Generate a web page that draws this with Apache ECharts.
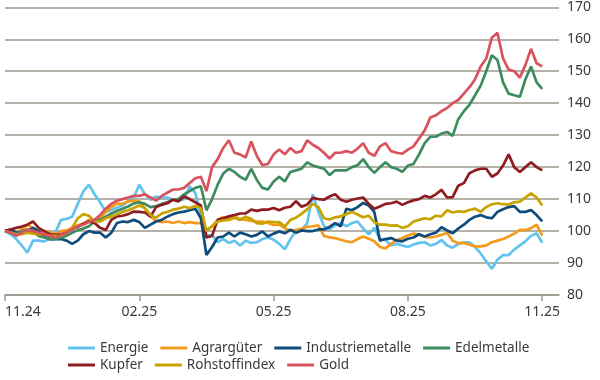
<!DOCTYPE html>
<html>
<head>
<meta charset="utf-8">
<script src="https://cdn.jsdelivr.net/npm/echarts@6/dist/echarts.min.js"></script>
<style>
html,body{margin:0;padding:0;background:#fff;}
#c{width:600px;height:380px;}
</style>
</head>
<body>
<div id="c"></div>
<script>
// Category axis: roughly twice-weekly sampling from Nov 2024 to Nov 2025
const months = ['2024-11','2024-12','2025-01','2025-02','2025-03','2025-04','2025-05','2025-06','2025-07','2025-08','2025-09','2025-10','2025-11'];
const days = ['01','05','09','13','16','20','24','28'];
const categories = months.flatMap(m => days.map(d => m + '-' + d)).slice(0, 100);

const xTickCats = ['2024-11-01','2025-02-01','2025-05-01','2025-08-01','2025-11-01'];
const xTickLabels = ['11.24','02.25','05.25','08.25','11.25'];

const seriesNames = ['Energie','Agrargüter','Industriemetalle','Edelmetalle','Kupfer','Rohstoffindex','Gold'];

const energie = [100,99,97.5,95.5,93.2,97,97,96.8,97.5,99.5, 103.5,103.8,104.5,108.5,112.4,114.5,111.5,109,106,106.6, 107.3,108,109.3,110.5,114.5,111.5,109.8,110.8,110.5,110.5, 109.8,109.5,110,114,112,104.5,98.5,98.8,96.5,97.5, 96.3,97,95.5,97,96.3,96.5,97.5,98,97.3,96, 94.3,97.5,100,100.2,102.5,111.5,106,101.5,100.6,101.8, 102.5,101.5,102.5,103,100.8,99,101,97.5,97.2,95.5, 96,95.5,95,95.8,96.3,96.5,95.5,96,97.2,95.5, 94.8,96,96.5,96.5,95,93,90.5,88.2,91,92.5, 92.5,94.2,95.5,96.8,98.5,99.3,96.3];

const agrar = [100,100,99.5,100.5,102,101,100,100,99.5,99, 100,100.2,101,101.8,102.3,103.5,103.2,104,106,107.5, 108.6,108.5,109.3,109.5,109.3,107,104.5,103.3,102.8,103, 102.5,103,102.5,102.8,102.5,102.5,100.4,101.5,103.5,104.4, 104,104.5,103.8,103.5,103.2,103,103,102.5,101.9,102, 100.9,100,100.4,100.8,101.3,101.5,101.8,98.5,98,97.8, 97.3,96.8,96.5,97.5,98.3,97.6,96.8,95,94.6,96, 97.2,97.8,98.6,99.2,98.8,98.2,98,98.3,98.8,99.5, 97,96.2,96.3,95.7,95.2,95.2,95.5,96.5,97,97.5, 98.3,99.2,100.4,100.3,100.9,102,98.6];

const industrie = [100,100.5,99.5,99.5,100,101,100,98.5,97.5,97.5, 97.5,97,96,97,99,100,99.5,99.5,98,99.5, 102.5,103,102.8,103.5,102.8,101,102,103,103.5,104.5, 105.3,105.8,106.1,106.5,107,104,92.5,95,98,98.3, 99.5,98.3,99.5,99,98.3,98.8,99.9,98.3,99.2,99.9, 99.3,100.4,99.5,100.2,100,100,100.5,100.5,101.3,102.5, 101.5,107,106.5,107.5,108.8,108,106,97,97.5,97.8, 97,96.8,97.6,98,99,98.3,99,99.5,101.2,100.2, 99.3,100.8,102,103.5,104.5,105,104.3,104,106,106.8, 107.5,107.8,106,106,106.6,105,103];

const edel = [100,99.5,99,100,100.5,100,98.5,98,97.5,97.5, 98,98.5,99.5,100.3,100.8,101.5,103,103.5,104.5,105.5, 106.3,107,107.7,108.6,109,108.5,107.5,107.8,108.5,109, 109.8,110,111.5,112.5,113.5,114,106.5,110,114.5,118, 119.5,118.5,117,116,119.5,116,113.5,113,115.5,117, 115.5,118.5,119,119.5,121.5,120.5,120,119.5,117.5,119, 119,119,120,120.6,122.5,120,118.2,120,121.5,120, 119.5,118.5,120.5,121,124,127.5,129.5,129.5,130.5,131, 129.8,135,137.5,139.5,142.5,145.5,150,155,153.5,146.5, 143,142.5,142,147.5,151.5,146.5,144.5];

const kupfer = [100,100.5,101,101.4,102,103,101,100,99,98.8, 99,99.5,100.8,101.3,102.3,103,102.5,101,100.3,103.5, 104.6,104.8,105.3,106.1,106,105.8,104.5,107.5,108.2,108.7, 109.8,109.3,110.8,110,109,108,98,98.5,103.5,104, 104.6,105,105.5,105.5,106.7,106.3,106.7,106.7,107.2,106.5, 107.3,107.6,109.3,107.6,108.3,110.4,110,109.8,110.8,111.5, 109.8,109.2,109.8,110.2,110.5,108.5,107,107.7,108.5,108.7, 109.2,108.2,109,109.6,110,111,110.5,111.5,112.9,110.5, 110.6,114.2,115,118.1,119,119.5,119.5,117,118,120.5, 124,120,118.5,120,121.5,120,119];

const rohstoff = [100,99.5,99,99,99.5,99.2,99,99,98.5,98.5, 98.5,99.5,101,104,105.3,104.8,103,103,104,104.6, 105.2,106,106.5,107.2,108,107.2,105,104.2,105.5,106, 106.7,107,107.6,107.2,107.8,107.2,100,101.5,103,103.3, 103.5,104.2,103.5,104.5,103.8,102.5,102.3,103,102.8,102.8, 101.4,103.5,104.2,105.4,106.8,108.5,107.5,104,103.6,104.3, 104.6,105.3,106,105.2,104.3,104.8,102.8,102,102,101.7, 101.8,101,101.5,103,103.5,104,103.7,104.8,104.6,106.5, 105.8,106.2,106,106.6,107,106,107.5,108.4,108.7,108.4, 108.3,109,109.2,110.5,111.8,110.5,108];

const gold = [100,99.5,98.5,99.5,100.5,100,99.5,99,98.5,98, 98.8,99.5,100.5,101.5,102,102.8,103.5,105,107,108.5, 109.5,110,110.5,111,111,111.5,110.5,109.5,111,112, 113,113,113.5,115,116.5,117,112.5,120,122.5,126, 128.4,124.5,124,123,128,123.5,120.6,121,124,125.5, 124,126,124.5,125,128.4,127,126,124.5,122.7,124.5, 124.5,125,124.5,125.8,127.5,124.5,123.5,126.5,127.5,125, 124.5,124.2,125.5,126.5,129,131.5,135.5,136.2,137.5,138.5, 140,141,143,145,147.5,151.5,154,160.5,162,154, 150.5,150,148,152,157,152.5,151.5];

const seriesValues = [energie, agrar, industrie, edel, kupfer, rohstoff, gold];
const seriesColors = ['#62c3ee','#f39b1c','#0f4c7c','#3d8c5f','#8e1c20','#c8a300','#d9535f'];

const gridColor = '#9d988d';
const textColor = '#3a3a3a';
const fontFamily = 'Noto Sans';

const isTick = (idx, val) => xTickCats.indexOf(val) >= 0;

const legendBase = {
  left: 68, padding: 0,
  icon: 'rect', itemWidth: 27, itemHeight: 3, itemGap: 12,
  textStyle: {color: textColor, fontSize: 13.5, fontFamily: fontFamily}
};

const chart = echarts.init(document.getElementById('c'), null, {renderer: 'canvas'});
chart.setOption({
  animation: false,
  backgroundColor: '#ffffff',
  textStyle: {fontFamily: fontFamily},
  grid: {left: 5, right: 41, top: 7.3, bottom: 85},
  xAxis: {
    type: 'category',
    boundaryGap: false,
    data: categories.map(c => c === xTickCats[0] ? {value: c, textStyle: {align: 'left'}} : c),
    axisLine: {lineStyle: {color: gridColor, width: 1.6}},
    axisTick: {interval: isTick, length: 6, lineStyle: {color: gridColor, width: 1.5}},
    axisLabel: {
      interval: isTick,
      formatter: v => xTickLabels[xTickCats.indexOf(v)],
      color: textColor, fontSize: 14, margin: 10, fontFamily: fontFamily
    },
    splitLine: {show: false}
  },
  yAxis: {
    type: 'value',
    position: 'right',
    min: 80, max: 170, interval: 10,
    axisLine: {show: false},
    axisTick: {show: false},
    axisLabel: {color: textColor, fontSize: 14, margin: 8, fontFamily: fontFamily},
    splitLine: {lineStyle: {color: gridColor, width: 1.6}}
  },
  legend: [
    Object.assign({}, legendBase, {data: seriesNames.slice(0, 4), top: 341}),
    Object.assign({}, legendBase, {data: seriesNames.slice(4), top: 358})
  ],
  series: seriesNames.map((n, i) => ({
    name: n,
    type: 'line',
    data: seriesValues[i],
    showSymbol: false,
    symbol: 'none',
    color: seriesColors[i],
    lineStyle: {width: 2.7, color: seriesColors[i]},
    z: 2 + i
  }))
});
</script>
</body>
</html>
